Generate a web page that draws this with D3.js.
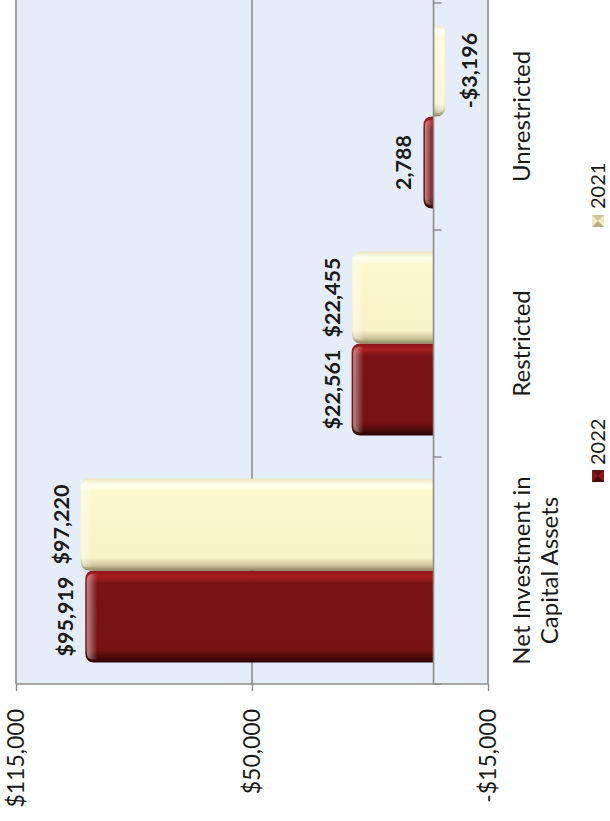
<!DOCTYPE html>
<html>
<head>
<meta charset="utf-8">
<script src="https://cdn.jsdelivr.net/npm/d3@7"></script>
<style>
  html, body { margin: 0; padding: 0; background: #ffffff; }
  svg { display: block; }
  text { font-family: Lato, "Open Sans", "DejaVu Sans", sans-serif; fill: #1a1a1a; }
</style>
</head>
<body>
<script>
// ---------------- data ----------------
const categories = ["Net Investment in Capital Assets", "Restricted", "Unrestricted"];
const categoryLines = [["Net Investment in", "Capital Assets"], ["Restricted"], ["Unrestricted"]];
const series = ["2022", "2021"];
const values2022 = [95919, 22561, 2788];
const values2021 = [97220, 22455, -3196];
const labels2022 = ["$95,919", "$22,561", "2,788"];
const labels2021 = ["$97,220", "$22,455", "-$3,196"];
const tickValues = [115000, 50000, -15000];
const tickLabels = ["$115,000", "$50,000", "-$15,000"];

// ---------------- layout (chart drawn upright, then rotated -90deg) ----------------
const PW = 610, PH = 821;       // page
const plotLeft = 137, plotRight = 830, plotTop = 16, plotBottom = 488;

const svg = d3.select("body").append("svg").attr("width", PW).attr("height", PH);
const defs = svg.append("defs");

function grad(id, stops, horizontal) {
  const lg = defs.append("linearGradient").attr("id", id)
    .attr("x1", 0).attr("y1", 0)
    .attr("x2", horizontal ? 1 : 0).attr("y2", horizontal ? 0 : 1);
  stops.forEach(s => lg.append("stop").attr("offset", s[0]).attr("stop-color", s[1]).attr("stop-opacity", s[2] === undefined ? 1 : s[2]));
}
grad("g2022", [[0, "#2a0505"], [0.06, "#4e0b0c"], [0.14, "#751214"], [0.86, "#7a1315"], [0.93, "#a81c20"], [1, "#8a1619"]], true);
grad("g2021", [[0, "#8f8762"], [0.06, "#cfc79f"], [0.14, "#f8f2c8"], [0.86, "#fcf8d0"], [0.93, "#ffffee"], [1, "#ece6c0"]], true);
grad("hiTop", [[0, "#ffffff", 0.5], [1, "#ffffff", 0]], false);
grad("hiBot", [[0, "#ffffff", 0], [1, "#ffffff", 0.5]], false);

const g = svg.append("g").attr("transform", `translate(0,${PH}) rotate(-90)`);

const x0 = d3.scaleBand().domain(categories).range([137, 818]).paddingInner(0).paddingOuter(0);
const x1 = d3.scaleBand().domain(series).range([0, x0.bandwidth()]).paddingInner(0).paddingOuter(0.2337);
const y = d3.scaleLinear().domain([-15000, 115000]).range([plotBottom, plotTop]);

// plot background
g.append("rect").attr("x", plotLeft).attr("y", plotTop)
  .attr("width", plotRight - plotLeft).attr("height", plotBottom - plotTop)
  .attr("fill", "#e5edf8");

// gridlines
g.append("g").selectAll("line").data(tickValues).join("line")
  .attr("x1", plotLeft).attr("x2", plotRight)
  .attr("y1", d => y(d)).attr("y2", d => y(d))
  .attr("stroke", "#8c8c8c").attr("stroke-width", 1.6);

// plot border (left edge)
g.append("line").attr("x1", plotLeft).attr("x2", plotLeft).attr("y1", plotTop).attr("y2", plotBottom)
  .attr("stroke", "#8c8c8c").attr("stroke-width", 1.6);

// value axis
const yAxis = d3.axisLeft(y).tickValues(tickValues).tickSize(7).tickPadding(18)
  .tickFormat((d, i) => tickLabels[i]);
const ya = g.append("g").attr("transform", `translate(${plotLeft},0)`).call(yAxis);
ya.select(".domain").remove();
ya.selectAll(".tick line").attr("stroke", "#8c8c8c").attr("stroke-width", 1.4);
ya.selectAll(".tick text").attr("font-size", 23).attr("fill", "#1a1a1a")
  .style("font-family", "Lato, 'Open Sans', sans-serif");

// bars
const rows = categories.map((c, i) => [
  { cat: c, s: "2022", v: values2022[i], label: labels2022[i] },
  { cat: c, s: "2021", v: values2021[i], label: labels2021[i] }
]).flat();

function barPath(x, w, y0, y1, r) {
  const dir = y1 < y0 ? 1 : -1;
  const len = Math.abs(y0 - y1);
  r = Math.min(r, len, w / 2);
  if (dir === 1) {
    return `M${x},${y0} L${x},${y1 + r} Q${x},${y1} ${x + r},${y1} L${x + w - r},${y1} Q${x + w},${y1} ${x + w},${y1 + r} L${x + w},${y0} Z`;
  } else {
    return `M${x},${y0} L${x},${y1 - r} Q${x},${y1} ${x + r},${y1} L${x + w - r},${y1} Q${x + w},${y1} ${x + w},${y1 - r} L${x + w},${y0} Z`;
  }
}

const bars = g.append("g");
rows.forEach(d => {
  const bx = x0(d.cat) + x1(d.s), bw = x1.bandwidth();
  const y0 = y(0), yv = y(d.v);
  bars.append("path").attr("d", barPath(bx, bw, y0, yv, 9))
    .attr("fill", `url(#g${d.s})`);
  const hl = 12;
  if (d.v >= 0) {
    bars.append("path").attr("d", barPath(bx + 3, bw - 6, Math.min(yv + hl, y0), yv + 1.5, 7))
      .attr("fill", "url(#hiTop)");
  } else {
    bars.append("path").attr("d", barPath(bx + 3, bw - 6, Math.max(yv - hl, y0), yv - 1.5, 7))
      .attr("fill", "url(#hiBot)");
  }
});

// data labels
g.append("g").selectAll("text").data(rows).join("text")
  .attr("x", d => x0(d.cat) + x1(d.s) + x1.bandwidth() / 2)
  .attr("y", d => d.v >= 0 ? y(d.v) - 12 : y(d.v) + 32)
  .attr("text-anchor", "middle")
  .attr("font-size", 21.5).attr("font-weight", "bold")
  .text(d => d.label);

// category axis (zero line + ticks)
g.append("line").attr("x1", plotLeft).attr("x2", plotRight).attr("y1", y(0)).attr("y2", y(0))
  .attr("stroke", "#8c8c8c").attr("stroke-width", 1.6);
const bounds = categories.map(c => x0(c)).concat([x0(categories[2]) + x0.bandwidth()]);
g.append("g").selectAll("line").data(bounds).join("line")
  .attr("x1", d => d).attr("x2", d => d)
  .attr("y1", y(0)).attr("y2", y(0) + 8)
  .attr("stroke", "#8c8c8c").attr("stroke-width", 1.4);

// category labels
const cl = g.append("g");
categories.forEach((c, i) => {
  const cx = x0(c) + x0.bandwidth() / 2;
  const t = cl.append("text").attr("text-anchor", "middle").attr("font-size", 24)
    .attr("x", cx).attr("y", 530);
  categoryLines[i].forEach((ln, k) => {
    t.append("tspan").attr("x", cx).attr("dy", k === 0 ? 0 : 28).text(ln);
  });
});

// legend
const legendItems = [
  { s: "2022", mx: 339, tx: 356, c1: "#8a1619", c2: "#4a0a0b" },
  { s: "2021", mx: 594, tx: 612, c1: "#f0e9c2", c2: "#b6ad80" }
];
const lg = g.append("g");
legendItems.forEach(d => {
  const my = 592, ms = 12;
  lg.append("rect").attr("x", d.mx).attr("y", my).attr("width", ms).attr("height", ms).attr("fill", d.c1);
  lg.append("path").attr("d", `M${d.mx},${my} L${d.mx + ms / 2},${my + ms / 2} L${d.mx},${my + ms} Z`).attr("fill", d.c2);
  lg.append("path").attr("d", `M${d.mx + ms},${my} L${d.mx + ms / 2},${my + ms / 2} L${d.mx + ms},${my + ms} Z`).attr("fill", d.c2).attr("opacity", 0.6);
  lg.append("text").attr("x", d.tx).attr("y", 605).attr("font-size", 20).text(d.s);
});
</script>
</body>
</html>
